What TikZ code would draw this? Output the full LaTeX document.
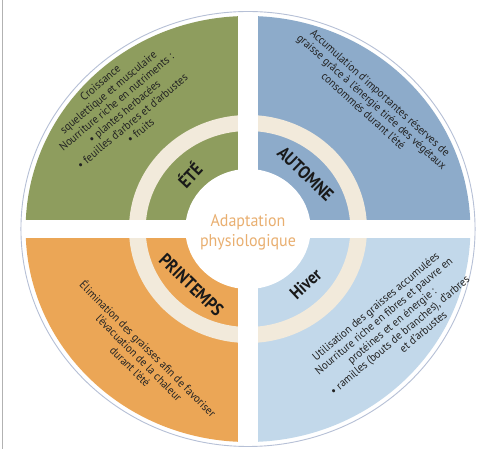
\documentclass[tikz,border=0pt]{standalone}
\usepackage{fontspec}
\setsansfont{PT Sans}[FakeStretch=0.94]
\newfontfamily\seasonfont{PT Sans}[FakeStretch=0.88]
\usepackage{xcolor}
\usepackage{tikz}
\definecolor{etegreen}{RGB}{142,157,94}
\definecolor{autblue}{RGB}{141,171,202}
\definecolor{prinorange}{RGB}{235,166,86}
\definecolor{hivblue}{RGB}{194,216,234}
\definecolor{ringcream}{RGB}{242,234,219}
\definecolor{edgeblue}{RGB}{182,192,214}
\definecolor{titleorange}{RGB}{233,175,112}
\definecolor{txtgray}{RGB}{35,35,35}

\begin{document}
\begin{tikzpicture}[
  x=1pt, y=1pt,
  season/.style={font=\seasonfont\bfseries\fontsize{18}{18}\selectfont, text=black!90, inner sep=0pt},
  desc/.style={font=\sffamily\fontsize{11.4}{12.5}\selectfont, text=txtgray, align=center, inner sep=0pt},
  centre/.style={font=\sffamily\fontsize{17}{20}\selectfont, text=titleorange, align=center, inner sep=0pt}
]
  \useasboundingbox (-248,-220) rectangle (236,229);
  \fill[white] (-248,-220) rectangle (236,229);
  % frame line on the left
  \draw[gray!60, line width=1pt] (-245,-220) -- (-245,229);

  \begin{scope}[xscale=1.044]
    % quadrants
    \foreach \col/\a in {autblue/0, etegreen/90, prinorange/180, hivblue/270} {
      \fill[\col] (0,0) -- (\a:213) arc[start angle=\a, delta angle=90, radius=213] -- cycle;
    }
    % cream ring
    \fill[ringcream, even odd rule] (0,0) circle[radius=114] circle[radius=98];
    % white gaps
    \fill[white] (-9.6,-216) rectangle (9.6,216);
    \fill[white] (-216,-9.5) rectangle (216,8.5);
    % centre disc
    \fill[white] (0,0) circle[radius=60];
    % outer rim
    \draw[edgeblue, line width=0.9pt] (0,0) circle[radius=217.5];

    % seasons
    \node[season, rotate=47] (ete) at (136:78) {ÉTÉ};
    \node[season, rotate=-44] (automne) at (45:78) {AUTOMNE};
    \node[season, rotate=-44] (printemps) at (226:78) {PRINTEMPS};
    \node[season, rotate=43] (hiver) at (-45:78) {Hiver};

    % descriptions
    \node[desc, rotate=40] (ete-txt) at (135:173) {Croissance\\squelettique et musculaire\\Nourriture riche en nutriments :\\• plantes herbacées\\• feuilles d'arbres et d'arbustes\\• fruits};
    \node[desc, rotate=-42] (automne-txt) at (47:174) {Accumulation d'importantes réserves de\\graisse grâce à l'énergie tirée des végétaux\\consommés durant l'été};
    \node[desc, rotate=-45] (printemps-txt) at (231:165) {Élimination des graisses afin de favoriser\\l'évacuation de la chaleur\\durant l'été};
    \node[desc, rotate=40] (hiver-txt) at (-35:168) {Utilisation des graisses accumulées\\Nourriture riche en fibres et pauvre en\\protéines et en énergie :\\• ramilles (bouts de branches), d'arbres\\\hspace*{40pt}et d'arbustes};

    % centre title
    \node[centre] (titre) at (0,-3) {Adaptation\\physiologique};
  \end{scope}
\end{tikzpicture}
\end{document}
